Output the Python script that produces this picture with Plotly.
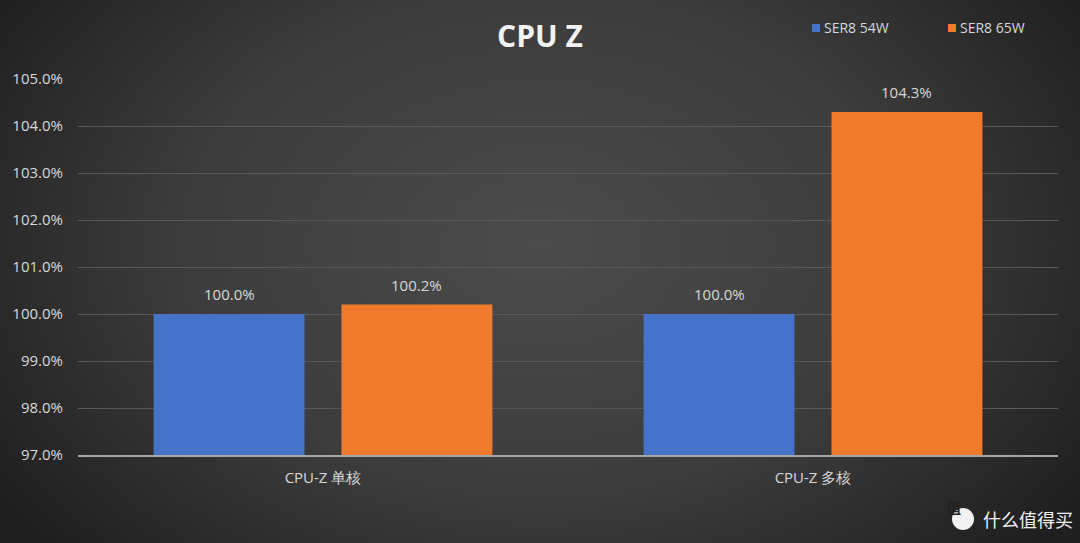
import base64
import plotly.graph_objects as go

categories = ["CPU-Z 单核", "CPU-Z 多核"]
series_names = ["SER8 54W", "SER8 65W"]
series_colors = ["#4673ca", "#f07b2c"]
ser8_54w = [100.0, 100.0]
ser8_65w = [100.2, 104.3]
y_ticks = [97, 98, 99, 100, 101, 102, 103, 104, 105]
y_tick_labels = [f"{v:.1f}%" for v in y_ticks]

W, H = 1080, 543
ML, MR, MT, MB = 78, 22, 79, 88
PW, PH = W - ML - MR, H - MT - MB
FONT = "Open Sans"
TXT = "#d9d9d9"

svg = f'''<svg xmlns="http://www.w3.org/2000/svg" width="{W}" height="{H}" viewBox="0 0 {W} {H}" preserveAspectRatio="none">
<defs><radialGradient id="g" cx="50%" cy="45%" r="60%" gradientTransform="translate(0.5 0.45) scale(1 1.4) translate(-0.5 -0.45)">
<stop offset="0%" stop-color="#4b4b4b"/><stop offset="55%" stop-color="#3c3c3c"/><stop offset="100%" stop-color="#1f1f1f"/></radialGradient></defs>
<rect width="{W}" height="{H}" fill="url(#g)"/></svg>'''
bg_src = "data:image/svg+xml;base64," + base64.b64encode(svg.encode()).decode()

def px_x(px):
    return (px - ML) / PW

def px_y(py):
    return (MT + PH - py) / PH

fig = go.Figure()
for name, vals, col in zip(series_names, [ser8_54w, ser8_65w], series_colors):
    fig.add_trace(go.Bar(
        x=categories, y=[v - 97 for v in vals], base=97, name=name,
        marker=dict(color=col, line=dict(width=0)),
        text=[f"{v:.1f}%" for v in vals], textposition="none",
        showlegend=False,
    ))

# value labels above bars (offset within each group)
offsets = [-0.5 * 0.767 / 2, 0.5 * 0.767 / 2]
for vals, off in zip([ser8_54w, ser8_65w], offsets):
    for i, v in enumerate(vals):
        fig.add_annotation(x=i + off, y=v, xref="x", yref="y", text=f"{v:.1f}%",
                           showarrow=False, yanchor="bottom", yshift=8,
                           font=dict(size=15, color=TXT, family=FONT))

fig.update_layout(
    width=W, height=H,
    margin=dict(l=ML, r=MR, t=MT, b=MB),
    paper_bgcolor="#3a3a3a", plot_bgcolor="rgba(0,0,0,0)",
    barmode="group", bargap=0.233, bargroupgap=0.197,
    font=dict(family=FONT, color=TXT, size=15),
    title=dict(text="<b>CPU Z</b>", x=0.5, xanchor="center", y=1 - 36 / H, yanchor="middle",
               font=dict(size=30, color="#f2f2f2", family=FONT)),
    showlegend=False,
    images=[dict(source=bg_src, xref="paper", yref="paper",
                 x=-ML / PW, y=1 + MT / PH, sizex=W / PW, sizey=H / PH,
                 xanchor="left", yanchor="top", sizing="stretch", layer="below")],
)

# legend as squares + text
legend_x = [812, 948]
for name, col, lx in zip(series_names, series_colors, legend_x):
    fig.add_shape(type="rect", xref="paper", yref="paper",
                  x0=px_x(lx), x1=px_x(lx + 8), y0=px_y(32), y1=px_y(24),
                  fillcolor=col, line=dict(width=0))
    fig.add_annotation(text=name, xref="paper", yref="paper", x=px_x(lx + 10), y=px_y(28),
                       xanchor="left", yanchor="middle", showarrow=False,
                       font=dict(size=14, color=TXT, family=FONT))

fig.update_xaxes(showgrid=False, showline=True, linecolor="#a6a6a6", linewidth=1.5,
                 ticks="", tickfont=dict(size=15, color=TXT), ticklabelstandoff=8)
fig.update_yaxes(range=[97, 105], tickvals=y_ticks, ticktext=y_tick_labels,
                 showgrid=True, gridcolor="#595959", gridwidth=1, zeroline=False,
                 showline=False, ticks="", tickfont=dict(size=15, color=TXT),
                 ticklabelstandoff=14)

# watermark
fig.add_shape(type="circle", xref="paper", yref="paper",
              x0=px_x(952), x1=px_x(974), y0=px_y(530), y1=px_y(508),
              fillcolor="#f2f2f2", line=dict(width=0))
fig.add_annotation(text="<b>值</b>", x=px_x(963), y=px_y(519), xref="paper", yref="paper",
                   showarrow=False, font=dict(size=14, color="#222", family="Noto Sans CJK SC"))
fig.add_annotation(text="什么值得买", x=px_x(981), y=px_y(519),
                   xref="paper", yref="paper", xanchor="left", yanchor="middle",
                   showarrow=False, font=dict(size=18, color="#f2f2f2", family="Noto Sans CJK SC"))

fig.write_html("out.html")
